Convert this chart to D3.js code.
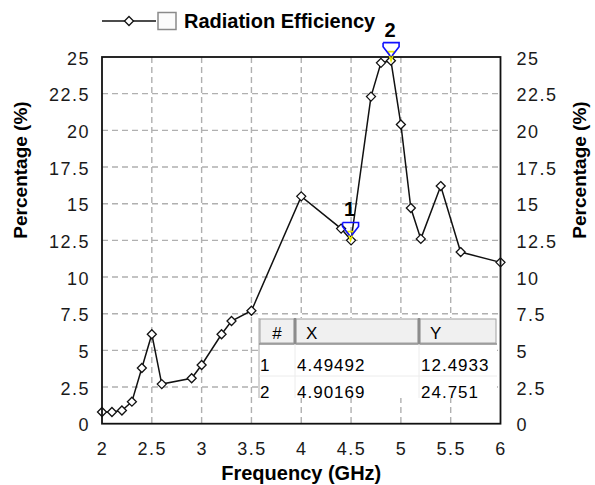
<!DOCTYPE html>
<html>
<head>
<meta charset="utf-8">
<script src="https://cdn.jsdelivr.net/npm/d3@7"></script>
<style>
    body { margin: 0; background: #ffffff; }
    svg { display: block; font-family: "Liberation Sans", Arial, sans-serif; }
</style>
</head>
<body>
<div id="chart"></div>
<script>
// values
const freqGHz = [2.0, 2.1, 2.2, 2.3, 2.4, 2.5, 2.6, 2.9, 3.0, 3.2, 3.3, 3.5, 4.0, 4.4, 4.5, 4.7, 4.8, 4.9, 5.0, 5.1, 5.2, 5.4, 5.6, 6.0];
const efficiencyPct = [0.8, 0.8, 0.9, 1.5, 3.8, 6.1, 2.7, 3.1, 4.0, 6.1, 7.0, 7.7, 15.5, 13.3, 12.5, 22.3, 24.6, 24.75, 20.4, 14.7, 12.6, 16.2, 11.7, 11.0];

const xTickValues = [2, 2.5, 3, 3.5, 4, 4.5, 5, 5.5, 6];
const yTickValues = [0, 2.5, 5, 7.5, 10, 12.5, 15, 17.5, 20, 22.5, 25];

const markerIds = ["1", "2"];
const markerFreq = [4.49492, 4.90169];
const markerPct = [12.4933, 24.751];
const markerFreqText = ["4.49492", "4.90169"];
const markerPctText = ["12.4933", "24.751"];

const tableHeaders = ["#", "X", "Y"];
const seriesName = "Radiation Efficiency";
const xTitle = "Frequency (GHz)";
const yTitle = "Percentage (%)";

const SETTINGS = {
    width: 595,
    height: 485,
    plot: {left: 102, right: 500.5, top: 57, bottom: 423.7},
    gridColor: "#b0b0b0",
    tickFont: "18px",
    titleFont: "20px"
};

const P = SETTINGS.plot;
const svg = d3.select("#chart").append("svg")
    .attr("width", SETTINGS.width)
    .attr("height", SETTINGS.height);

const x = d3.scaleLinear().domain([2, 6]).range([P.left, P.right]);
const y = d3.scaleLinear().domain([0, 25]).range([P.bottom, P.top]);

//dashed grid, skipping the lines that sit on the frame
svg.append("g").selectAll("line")
    .data(xTickValues.slice(1, -1))
    .join("line")
    .attr("x1", d => x(d)).attr("x2", d => x(d))
    .attr("y1", P.top).attr("y2", P.bottom)
    .attr("stroke", SETTINGS.gridColor)
    .attr("stroke-width", 1.4)
    .attr("stroke-dasharray", "6,4");

svg.append("g").selectAll("line")
    .data(yTickValues.slice(1, -1))
    .join("line")
    .attr("x1", P.left).attr("x2", P.right)
    .attr("y1", d => y(d)).attr("y2", d => y(d))
    .attr("stroke", SETTINGS.gridColor)
    .attr("stroke-width", 1.4)
    .attr("stroke-dasharray", "6,4");

//tick labels via d3 axes
function styleAxis(g){
    g.select(".domain").remove();
    g.selectAll("text")
        .attr("fill", "#1a1a1a")
        .style("font-size", SETTINGS.tickFont)
        .style("letter-spacing", "1.5px");
}

svg.append("g")
    .attr("transform", `translate(0,${P.bottom})`)
    .call(d3.axisBottom(x).tickValues(xTickValues).tickSize(0).tickPadding(19).tickFormat(d3.format("")))
    .call(styleAxis);

svg.append("g")
    .attr("transform", `translate(${P.left},0)`)
    .call(d3.axisLeft(y).tickValues(yTickValues).tickSize(0).tickPadding(12).tickFormat(d3.format("")))
    .call(styleAxis)
    .selectAll("text").attr("dy", "0.4em");

svg.append("g")
    .attr("transform", `translate(${P.right},0)`)
    .call(d3.axisRight(y).tickValues(yTickValues).tickSize(0).tickPadding(16).tickFormat(d3.format("")))
    .call(styleAxis)
    .selectAll("text").attr("dy", "0.4em");

//axis titles
svg.append("text")
    .attr("x", (P.left + P.right) / 2)
    .attr("y", 480)
    .attr("text-anchor", "middle")
    .style("font-size", SETTINGS.titleFont)
    .style("font-weight", "bold")
    .text(xTitle);

[27, 586].forEach(function(bx){
    svg.append("text")
        .attr("transform", `translate(${bx},170) rotate(-90)`)
        .attr("text-anchor", "middle")
        .style("font-size", "19px")
        .style("font-weight", "bold")
        .text(yTitle);
});

//data line and hollow diamonds
const pts = freqGHz.map((f, i) => ({x: f, y: efficiencyPct[i]}));
const diamond = "M0,-4.5L4.5,0L0,4.5L-4.5,0Z";

svg.append("path")
    .datum(pts)
    .attr("fill", "none")
    .attr("stroke", "#111")
    .attr("stroke-width", 1.5)
    .attr("d", d3.line().x(d => x(d.x)).y(d => y(d.y)));

svg.append("g").selectAll("path")
    .data(pts)
    .join("path")
    .attr("transform", d => `translate(${x(d.x)},${y(d.y)})`)
    .attr("d", diamond)
    .attr("fill", "#fff")
    .attr("stroke", "#111")
    .attr("stroke-width", 1.3);

//plot frame
svg.append("rect")
    .attr("x", P.left).attr("y", P.top)
    .attr("width", P.right - P.left).attr("height", P.bottom - P.top)
    .attr("fill", "none")
    .attr("stroke", "#111")
    .attr("stroke-width", 1.8);

//markers
const markers = markerIds.map((id, i) => ({id: id, x: markerFreq[i], y: markerPct[i]}));
const mg = svg.append("g").selectAll("g")
    .data(markers)
    .join("g")
    .attr("transform", d => `translate(${x(d.x)},${y(d.y)})`);

mg.append("path")
    .attr("d", "M-3,-9L3,-9L0,0Z")
    .attr("fill", "none")
    .attr("stroke", "#e8e800")
    .attr("stroke-width", 1.6);

mg.append("path")
    .attr("d", "M-8,-18L8,-18L8,-14L1,-5M-8,-18L-8,-14L-1,-5")
    .attr("fill", "none")
    .attr("stroke", "#1010ff")
    .attr("stroke-width", 1.6);

mg.append("text")
    .attr("x", -1)
    .attr("y", -24)
    .attr("text-anchor", "middle")
    .style("font-size", "20px")
    .style("font-weight", "bold")
    .text(d => d.id);

//marker table
const T = {left: 259, right: 497, top: 318, head: 344, rowH: 29, cols: [259, 295, 419, 497]};
const tbl = svg.append("g");

tbl.append("rect")
    .attr("x", T.left).attr("y", T.top)
    .attr("width", T.right - T.left).attr("height", T.head - T.top + 2 * T.rowH - 4)
    .attr("fill", "#fff");

tbl.append("line")
    .attr("x1", T.left).attr("x2", T.left)
    .attr("y1", T.top).attr("y2", T.head + 2 * T.rowH - 4)
    .attr("stroke", "#a8a8a8");

const headCells = tableHeaders.map((h, i) => ({h: h, x0: T.cols[i], x1: T.cols[i + 1]}));
tbl.selectAll(".hcell")
    .data(headCells)
    .join("rect")
    .attr("class", "hcell")
    .attr("x", d => d.x0 + 1).attr("y", T.top + 1)
    .attr("width", d => d.x1 - d.x0 - 2).attr("height", T.head - T.top - 2)
    .attr("fill", "#f0f0f0")
    .attr("stroke", "#a0a0a0")
    .attr("stroke-width", 1);

tbl.selectAll(".hsep")
    .data(T.cols.slice(1, 3))
    .join("line")
    .attr("class", "hsep")
    .attr("x1", d => d).attr("x2", d => d)
    .attr("y1", T.top).attr("y2", T.head)
    .attr("stroke", "#8c8c8c")
    .attr("stroke-width", 2.5);

tbl.append("line")
    .attr("x1", T.left).attr("x2", T.right)
    .attr("y1", T.head).attr("y2", T.head)
    .attr("stroke", "#8c8c8c")
    .attr("stroke-width", 1.5);

tbl.selectAll(".htext")
    .data(headCells)
    .join("text")
    .attr("class", "htext")
    .attr("x", (d, i) => i === 0 ? (d.x0 + d.x1) / 2 : d.x0 + 11)
    .attr("y", T.head - 5)
    .attr("text-anchor", (d, i) => i === 0 ? "middle" : "start")
    .style("font-size", "17px")
    .text(d => d.h);

//faint row and column lines
tbl.append("line")
    .attr("x1", T.left).attr("x2", T.right)
    .attr("y1", T.head + T.rowH + 3).attr("y2", T.head + T.rowH + 3)
    .attr("stroke", "#ececec");

tbl.selectAll(".csep")
    .data(T.cols.slice(1, 3))
    .join("line")
    .attr("class", "csep")
    .attr("x1", d => d).attr("x2", d => d)
    .attr("y1", T.head).attr("y2", T.head + 2 * T.rowH - 4)
    .attr("stroke", "#ececec");

const rows = markerIds.map((id, i) => [id, markerFreqText[i], markerPctText[i]]);
rows.forEach(function(r, ri){
    tbl.selectAll(".r" + ri)
        .data(r)
        .join("text")
        .attr("class", "r" + ri)
        .attr("x", (d, i) => T.cols[i] + (i === 0 ? 1 : 2))
        .attr("y", ri === 0 ? 371 : 397.5)
        .style("font-size", "17px")
        .style("letter-spacing", "1px")
        .text(d => d);
});

//legend
const lg = svg.append("g");
lg.append("line")
    .attr("x1", 102).attr("x2", 156)
    .attr("y1", 21).attr("y2", 21)
    .attr("stroke", "#111").attr("stroke-width", 1.5);
lg.append("path")
    .attr("transform", "translate(129,21)")
    .attr("d", diamond)
    .attr("fill", "#fff").attr("stroke", "#111").attr("stroke-width", 1.3);
lg.append("rect")
    .attr("x", 158).attr("y", 12.5)
    .attr("width", 18).attr("height", 17)
    .attr("fill", "#fbfbfb")
    .attr("stroke", "#8a8a8a")
    .attr("stroke-width", 1.5);
lg.append("text")
    .attr("x", 184).attr("y", 28)
    .style("font-size", SETTINGS.titleFont)
    .style("font-weight", "bold")
    .text(seriesName);
</script>
</body>
</html>
